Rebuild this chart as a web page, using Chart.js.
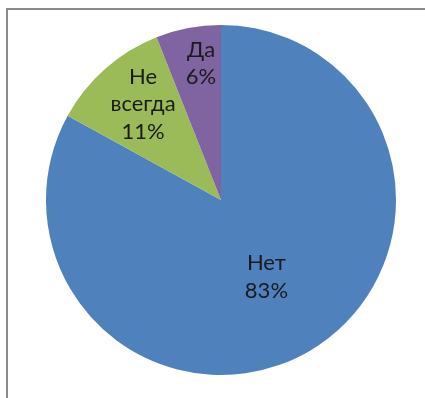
<!DOCTYPE html>
<html>
<head>
<meta charset="utf-8">
<script src="https://cdn.jsdelivr.net/npm/chart.js@4.4.0/dist/chart.umd.min.js"></script>
<style>
  html, body { margin: 0; padding: 0; background: #fff; }
  #wrap { position: relative; width: 425px; height: 398px; overflow: hidden; }
  #frame {
    position: absolute; left: 6px; top: 8px; width: 440px; height: 420px;
    border-left: 2px solid #8a8a8a; border-top: 2px solid #8a8a8a;
    box-sizing: border-box;
  }
  #chart { position: absolute; left: 0; top: 0; }
</style>
</head>
<body>
<div id="wrap">
  <div id="frame"></div>
  <canvas id="chart" width="425" height="398"></canvas>
</div>
<script>
// answers, clockwise from 12 o'clock
const categories = ["Нет", "Не\nвсегда", "Да"];
const values = [83, 11, 6];

const sliceColors = ["#4f81bd", "#9bbb59", "#8064a2"];
// where each label sits along its slice: share of radius, nudge in degrees
const labelRadius = [0.51, 0.705, 0.79];
const labelNudge = [0, 2.2, 2.5];

const total = values.reduce((a, b) => a + b, 0);

const sliceLabels = {
  id: "sliceLabels",
  afterDatasetsDraw(chart) {
    const ctx = chart.ctx;
    const arcs = chart.getDatasetMeta(0).data;
    ctx.save();
    ctx.font = "22px Lato";
    ctx.fillStyle = "#1a1a1a";
    ctx.textAlign = "center";
    ctx.textBaseline = "middle";
    arcs.forEach((arc, i) => {
      const mid = (arc.startAngle + arc.endAngle) / 2 + labelNudge[i] * Math.PI / 180;
      const r = arc.outerRadius * labelRadius[i];
      const x = arc.x + Math.cos(mid) * r;
      const y = arc.y + Math.sin(mid) * r;
      const pct = Math.round(values[i] / total * 100) + "%";
      const lines = categories[i].split("\n").concat(pct);
      const lh = 27.5;
      const top = y - (lines.length - 1) * lh / 2;
      lines.forEach((t, k) => ctx.fillText(t, x, top + k * lh));
    });
    ctx.restore();
  }
};

new Chart(document.getElementById("chart"), {
  type: "pie",
  data: {
    labels: categories,
    datasets: [{
      data: values,
      backgroundColor: sliceColors,
      borderWidth: 0
    }]
  },
  options: {
    responsive: false,
    animation: false,
    layout: { padding: { left: 46, right: 29, top: 25, bottom: 23 } },
    plugins: {
      legend: { display: false },
      tooltip: { enabled: false }
    }
  },
  plugins: [sliceLabels]
});
</script>
</body>
</html>
